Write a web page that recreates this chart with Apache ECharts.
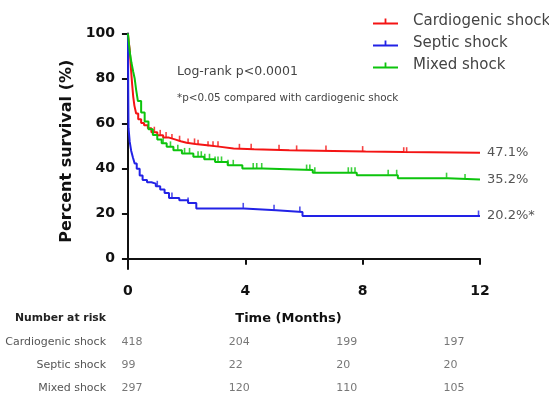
<!DOCTYPE html>
<html>
<head>
<meta charset="utf-8">
<script src="https://cdn.jsdelivr.net/npm/echarts@6/dist/echarts.min.js"></script>
<style>
  html, body { margin: 0; padding: 0; background: #fff; }
  #survival { width: 549px; height: 399px; }
</style>
</head>
<body>
<div id="survival"></div>
<script>
// 分组
var groupNames = ['Cardiogenic shock', 'Septic shock', 'Mixed shock'];
var groupColors = ['#f41414', '#2222e6', '#0cc40c'];
var endLabels = ['47.1%', '20.2%*', '35.2%'];

// Kaplan-Meier 曲线 (月, %)
var cardioTime = [0, 0.03, 0.06, 0.1, 0.14, 0.18, 0.22, 0.28, 0.35, 0.45, 0.55, 0.68, 0.8, 1.0, 1.2, 1.4, 1.6, 1.8, 2.0, 2.3, 2.7, 3.1, 3.6, 4.3, 5.5, 7.0, 8.1, 9.4, 12];
var cardioSurv = [100, 96, 93, 85, 78, 72, 68, 64.5, 62, 60.3, 59.3, 58, 56.2, 54.8, 53.8, 53, 52.2, 51.5, 51, 50.4, 49.8, 49, 48.6, 48.2, 47.9, 47.6, 47.4, 47.1, 47.1];

var septicTime = [0, 0.01, 0.02, 0.06, 0.11, 0.17, 0.23, 0.3, 0.4, 0.5, 0.65, 0.8, 0.95, 1.1, 1.25, 1.4, 1.75, 2.05, 2.33, 3.95, 5.05, 5.95, 12];
var septicSurv = [100, 75, 58, 52, 48, 45, 42.3, 40, 37, 35, 34, 33.4, 32.2, 30.8, 29.2, 27, 26, 24.8, 22.4, 21.6, 20.8, 19, 19];

var mixedTime = [0, 0.03, 0.06, 0.12, 0.18, 0.23, 0.28, 0.34, 0.45, 0.57, 0.7, 0.85, 1.0, 1.15, 1.32, 1.55, 1.84, 2.23, 2.6, 2.97, 3.4, 3.9, 4.6, 6.3, 7.8, 9.2, 10.9, 12];
var mixedSurv = [100, 96, 92, 87, 83, 80, 75, 70, 65, 61, 57.5, 55, 53, 51.3, 49.7, 48.2, 46.8, 45.3, 44.2, 43, 41.5, 40.1, 39.4, 38.2, 37.1, 35.8, 35.2, 35.2];

// 删失时间点
var cardioCensor = [0.9, 1.1, 1.3, 1.5, 1.76, 2.05, 2.27, 2.39, 2.73, 2.9, 3.07, 3.8, 4.2, 5.15, 5.75, 6.75, 8.0, 9.4, 9.5];
var septicCensor = [1.0, 1.5, 2.05, 3.93, 4.98, 5.86, 11.95];
var mixedCensor = [1.2, 1.45, 1.7, 1.93, 2.1, 2.39, 2.5, 2.62, 2.78, 2.97, 3.07, 3.19, 3.41, 3.59, 4.27, 4.39, 4.56, 6.09, 6.2, 6.37, 7.51, 7.62, 7.74, 8.87, 9.16, 10.86, 11.49];

// 风险人数
var riskTimes = [0, 4, 8, 12];
var riskCardio = [418, 204, 199, 197];
var riskSeptic = [99, 22, 20, 20];
var riskMixed = [297, 120, 110, 105];

// 坐标刻度
var xTicks = [0, 4, 8, 12];
var yTicks = [0, 20, 40, 60, 80, 100];

var FONT = 'DejaVu Sans';

function pairs(t, s) {
    var out = [];
    for (var i = 0; i < t.length; i++) out.push([t[i], s[i]]);
    return out;
}

// 删失点的生存率取阶梯函数上的值
function censorPoints(t, s, c) {
    var out = [];
    for (var i = 0; i < c.length; i++) {
        var v = s[0];
        for (var j = 0; j < t.length; j++) {
            if (t[j] <= c[i]) v = s[j];
        }
        out.push([c[i], v]);
    }
    return out;
}

function riskRow(name, counts) {
    var out = [];
    for (var i = 0; i < riskTimes.length; i++) out.push([riskTimes[i], name, counts[i]]);
    return out;
}

function initEcharts() {
    var myChart = echarts.init(document.getElementById('survival'));
    var curves = [
        [cardioTime, cardioSurv, cardioCensor],
        [septicTime, septicSurv, septicCensor],
        [mixedTime, mixedSurv, mixedCensor]
    ];
    var risks = [riskCardio, riskSeptic, riskMixed];
    var order = [1, 2, 0]; // 红线画在最上层

    var series = [];
    order.forEach(function(i) {
        series.push({
            name: groupNames[i],
            type: 'line',
            step: 'end',
            xAxisIndex: 0,
            yAxisIndex: 0,
            data: pairs(curves[i][0], curves[i][1]),
            showSymbol: false,
            symbol: 'none',
            silent: true,
            lineStyle: { color: groupColors[i], width: 2 },
            itemStyle: { color: groupColors[i] },
            endLabel: {
                show: true,
                formatter: endLabels[i],
                distance: 7,
                color: '#555',
                fontSize: 13,
                fontFamily: FONT
            },
            z: 3 + i
        });
        series.push({
            name: groupNames[i],
            type: 'scatter',
            xAxisIndex: 0,
            yAxisIndex: 0,
            data: censorPoints(curves[i][0], curves[i][1], curves[i][2]),
            symbol: 'rect',
            symbolSize: [1.6, 5],
            symbolOffset: [0, -3],
            silent: true,
            itemStyle: { color: groupColors[i] },
            z: 3 + i
        });
    });
    for (var k = 0; k < groupNames.length; k++) {
        series.push({
            type: 'scatter',
            xAxisIndex: 1,
            yAxisIndex: 1,
            data: riskRow(groupNames[k], risks[k]),
            symbolSize: 1,
            silent: true,
            itemStyle: { color: 'transparent' },
            label: {
                show: true,
                position: 'right',
                distance: 0,
                formatter: function(p) { return p.value[2]; },
                color: '#555',
                fontSize: 11,
                fontFamily: FONT
            }
        });
    }

    var iconPath = 'path://M0,7H25V9H0Z M11.6,3H13.4V7H11.6Z';

    var option = {
        animation: false,
        backgroundColor: '#fff',
        legend: {
            orient: 'vertical',
            left: 368,
            top: 9,
            itemWidth: 25,
            itemHeight: 10,
            itemGap: 7,
            data: groupNames.map(function(n, i) {
                return { name: n, icon: iconPath, itemStyle: { color: groupColors[i] } };
            }),
            textStyle: {
                color: '#444',
                fontSize: 15,
                fontFamily: FONT,
                lineHeight: 15,
                padding: [0, 0, 0, 10]
            }
        },
        grid: [
            { left: 125, top: 33.5, width: 355, height: 235.5 },
            { left: 121, top: 331, width: 322, height: 73.5 }
        ],
        xAxis: [
            {
                type: 'value',
                gridIndex: 0,
                min: -0.1,
                max: 12,
                name: 'Time (Months)',
                nameLocation: 'middle',
                nameGap: 43,
                nameTextStyle: {
                    color: '#111',
                    fontSize: 13,
                    fontWeight: 'bold',
                    fontFamily: FONT,
                    padding: [0, 28, 0, 0]
                },
                splitLine: { show: false },
                axisLine: { lineStyle: { color: '#111', width: 2 } },
                axisTick: { customValues: xTicks, length: 6, lineStyle: { color: '#111', width: 2 } },
                axisLabel: {
                    customValues: xTicks,
                    margin: 15,
                    color: '#111',
                    fontSize: 14,
                    fontWeight: 'bold',
                    fontFamily: FONT
                }
            },
            {
                type: 'value',
                gridIndex: 1,
                min: 0,
                max: 12,
                show: false
            }
        ],
        yAxis: [
            {
                type: 'value',
                gridIndex: 0,
                min: -4.5,
                max: 100,
                name: 'Percent survival (%)',
                nameLocation: 'middle',
                nameGap: 45,
                nameTextStyle: {
                    color: '#111',
                    fontSize: 16,
                    fontWeight: 'bold',
                    fontFamily: FONT
                },
                splitLine: { show: false },
                axisLine: { show: true, lineStyle: { color: '#111', width: 2 } },
                axisTick: { show: true, customValues: yTicks, length: 6, lineStyle: { color: '#111', width: 2 } },
                axisLabel: {
                    customValues: yTicks,
                    margin: 10,
                    color: '#111',
                    fontSize: 14,
                    fontWeight: 'bold',
                    fontFamily: FONT
                }
            },
            {
                type: 'category',
                gridIndex: 1,
                data: groupNames,
                inverse: true,
                axisLine: { show: false },
                axisTick: { show: false },
                splitLine: { show: false },
                axisLabel: {
                    margin: 15,
                    color: '#555',
                    fontSize: 11,
                    fontFamily: FONT
                }
            }
        ],
        graphic: [
            {
                type: 'text',
                left: 177,
                top: 65,
                style: { text: 'Log-rank p<0.0001', fill: '#444', fontSize: 12.5, fontFamily: FONT }
            },
            {
                type: 'text',
                left: 177,
                top: 93,
                style: { text: '*p<0.05 compared with cardiogenic shock', fill: '#444', fontSize: 10.4, fontFamily: FONT }
            },
            {
                type: 'text',
                left: 15,
                top: 313,
                style: { text: 'Number at risk', fill: '#222', fontSize: 10.8, fontWeight: 'bold', fontFamily: FONT }
            }
        ],
        series: series
    };

    myChart.setOption(option);
    resize(myChart);
}

// 响应式
function resize(echart) {
    window.onresize = function() {
        echart.resize();
    };
}

initEcharts();
</script>
</body>
</html>
